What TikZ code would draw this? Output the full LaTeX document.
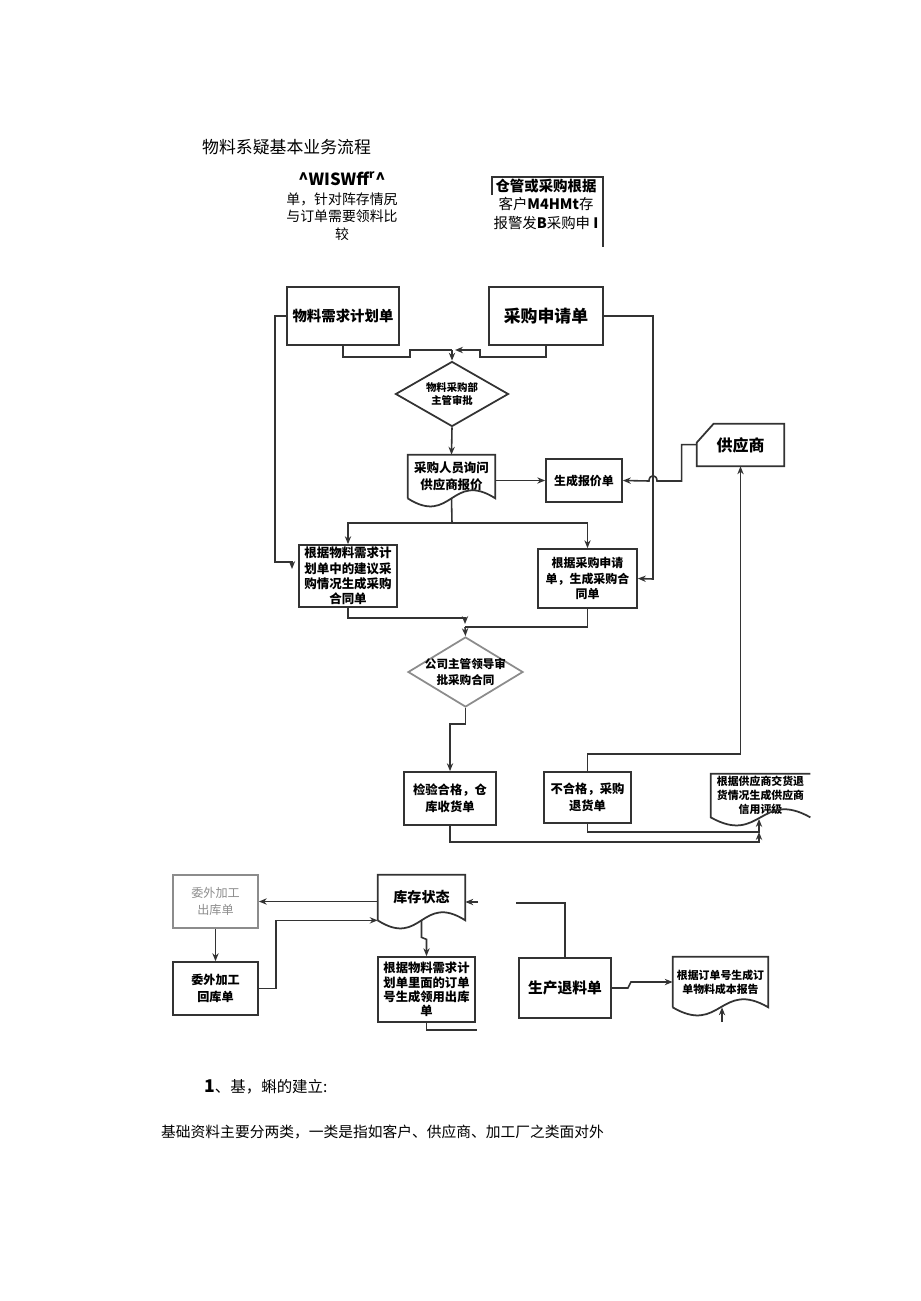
\documentclass[tikz,border=0pt]{standalone}
\usepackage{fontspec}
\setmainfont{Noto Sans CJK SC}
\usetikzlibrary{arrows.meta,shapes.geometric,calc}
\definecolor{linegray}{HTML}{333333}
\definecolor{softgray}{HTML}{8C8C8C}
\newcommand{\fsz}[2]{\fontsize{#1pt}{#2pt}\selectfont}
\newcommand{\docframe}[1]{\draw[frame] (#1.south west) -- (#1.north west) -- (#1.north east) -- (#1.south east)
  .. controls ($(#1.south)+(0,-28)$) and ($(#1.south)+(0,28)$) .. (#1.south west);}
\tikzset{
  box/.style={draw=linegray, line width=1pt, rectangle, inner sep=0pt, align=center},
  decision/.style={draw=linegray, line width=1pt, diamond, inner sep=0pt},
  dtext/.style={align=center, inner sep=0pt},
  doc/.style={rectangle, inner sep=0pt, align=center},
  frame/.style={draw=linegray, line width=1pt},
  flow/.style={draw=linegray, line width=0.9pt}
}

\begin{document}
\begin{tikzpicture}[x=0.02cm,y=-0.02cm,>={Stealth[length=4.5pt,width=3.6pt]}]
\useasboundingbox (0,0) rectangle (920,1301);

\node[anchor=west,font=\fsz{9.6}{11}] (title) at (196,147) {物料系疑基本业务流程};
\node[align=center,font=\fsz{7.9}{9.9}] (note1) at (342,206) {{\bfseries\fsz{9.5}{10}\textasciicircum WISWff\textsuperscript{r}\textasciicircum}\\[1pt]单，针对阵存情尻\\与订单需要领料比\\较};
\node[align=center,font=\fsz{8.2}{10.5}] (note2) at (546,204) {\bfseries 仓管或采购根据\\客户\textbf{M4HMt}存\\报警发\textbf{B}采购申 \textbf{I}};
\draw[frame] (492,195) -- (492,177) -- (603,177) -- (603,247);

\node[box,minimum width=2.24cm,minimum height=1.16cm,font=\bfseries\fsz{8.2}{10}] (mrp) at (343,316) {物料需求计划单};
\node[box,minimum width=2.28cm,minimum height=1.16cm,font=\bfseries\fsz{9.6}{11}] (req) at (546,316) {采购申请单};
\node[decision,minimum width=2.26cm,minimum height=1.3cm] (chk) at (452,394) {};
\node[dtext,font=\bfseries\fsz{5.9}{7.6}] (chktext) at (chk) {物料采购部\\主管审批};
\node[doc,minimum width=1.74cm,minimum height=0.86cm,font=\bfseries\fsz{7.1}{9.9}] (ask) at (451.5,476.5) {采购人员询问\\供应商报价};
\docframe{ask}
\node[box,minimum width=1.52cm,minimum height=0.86cm,font=\bfseries\fsz{6.8}{8}] (quote) at (584,480.5) {生成报价单};
\node[doc,minimum width=1.74cm,minimum height=0.84cm,font=\bfseries\fsz{9.1}{10}] (sup) at (740.5,445) {供应商};
\draw[frame] ($(sup.north west)+(17,0)$) -- (sup.north east) -- (sup.south east) -- (sup.south west) -- ($(sup.north west)+(0,19)$) -- cycle;
\node[box,minimum width=1.96cm,minimum height=1.24cm,font=\bfseries\fsz{7.1}{8.7}] (plan) at (348,576) {根据物料需求计\\划单中的建议采\\购情况生成采购\\合同单};
\node[box,minimum width=1.98cm,minimum height=1.18cm,font=\bfseries\fsz{6.8}{9}] (order) at (587.5,578.5) {根据采购申请\\单，生成采购合\\同单};
\node[decision,draw=softgray,minimum width=2.3cm,minimum height=1.4cm] (boss) at (465.5,672) {};
\node[dtext,font=\bfseries\fsz{6.6}{9.6}] (bosstext) at (boss) {公司主管领导审\\批采购合同};
\node[box,minimum width=1.84cm,minimum height=1.06cm,font=\bfseries\fsz{7}{9.4}] (pass) at (450,798.5) {检验合格，仓\\库收货单};
\node[box,minimum width=1.74cm,minimum height=1.02cm,font=\bfseries\fsz{7}{9.4}] (fail) at (587.5,797.5) {不合格，采购\\退货单};
\node[doc,minimum width=1.98cm,minimum height=0.86cm,font=\bfseries\fsz{6.2}{7.9}] (rate) at (760.5,795.5) {根据供应商交货退\\货情况生成供应商\\信用评级};
\draw[frame] (rate.north east) -- (rate.north west) -- (rate.south west)
  .. controls ($(rate.south)+(0,28)$) and ($(rate.south)+(0,-28)$) .. (rate.south east);

\node[box,draw=softgray,text=softgray,minimum width=1.7cm,minimum height=1.06cm,font=\fsz{6.9}{9.6}] (sendout) at (215.5,901.5) {委外加工\\出库单};
\node[box,minimum width=1.7cm,minimum height=1.06cm,font=\bfseries\fsz{6.9}{9.6}] (sendback) at (215.5,988.5) {委外加工\\回库单};
\node[doc,minimum width=1.74cm,minimum height=0.9cm,font=\bfseries\fsz{8}{9}] (stock) at (421.5,897.5) {库存状态};
\docframe{stock}
\node[box,minimum width=1.94cm,minimum height=1.3cm,font=\bfseries\fsz{7}{8.2}] (issue) at (426.5,989.5) {根据物料需求计\\划单里面的订单\\号生成领用出库\\单};
\node[box,minimum width=1.84cm,minimum height=1.2cm,font=\bfseries\fsz{8.4}{9}] (retmat) at (565,988) {生产退料单};
\node[doc,minimum width=1.9cm,minimum height=1cm,font=\bfseries\fsz{6.2}{7.9}] (cost) at (720.5,982) {根据订单号生成订\\单物料成本报告};
\docframe{cost}

\node[anchor=west,font=\fsz{8.8}{10}] (sec) at (198,1087) {{\bfseries\fsz{10}{10}1}、基，蝌的建立:};
\node[anchor=west,font=\fsz{8.4}{10}] (para) at (155,1132) {基础资料主要分两类，一类是指如客户、供应商、加工厂之类面对外};

\coordinate (m1) at (452,350);
\draw[flow] (mrp.south) |- (410,357) -- (410,350) -- (m1);
\draw[flow,->] (req.south) |- (480,357) -- (480,350) -- ($(m1)+(3,0)$);
\draw[flow,->] (m1) -- (chk.north);
\draw[flow,->] (chk.south) -- (ask.north);
\draw[flow,->] (ask.east |- quote.west) -- (quote.west);
\coordinate (supin) at ($(sup.north west)+(0,21)$);
\draw[flow,->] (supin) -- ++(-15,0) |- (657,481) .. controls (657,474) and (649,474) .. (649,481) -- (quote.east);
\draw[flow,->] (req.east) -| (653,579) -- (order.east);
\coordinate (split) at (452,523);
\draw[flow] (ask.south) -- (split);
\draw[flow,->] (split) -| (plan.north);
\draw[flow,->] (split) -| (order.north);
\draw[flow,->] (mrp.west) -- ++(-11,0) |- (292,562) -- (292,569);
\coordinate (merge) at (465,627);
\draw[flow,->] (plan.south) |- (465,618) -- (465,624);
\draw[flow] (order.south) |- (merge);
\draw[flow,->] (merge) -- (boss.north);
\draw[flow,->] (boss.south) -- ++(0,16) -| (pass.north);
\draw[flow,->] (fail.north) -- ++(0,-17) -| (sup.south);
\draw[flow,->] (pass.south) -- ++(0,16) -| (759,832);
\draw[flow,->] (fail.south) -- ++(0,8) -| (759,819);

\draw[flow,->] (stock.west |- sendout.east) -- (sendout.east);
\draw[flow,->] (sendout.south) -- (sendback.north);
\draw[flow,->] (sendback.east) -- ++(17,0) |- (stock.south west);
\draw[flow,->] (stock.south) -- ++(0,17) -- ++(5,2) -- (issue.north);
\coordinate (cutA) at (477,1030);
\draw[flow] (issue.south) |- (cutA);
\coordinate (cutB) at (478,902);
\draw[flow,->] (cutB) -- (stock.east |- cutB);
\coordinate (cutC) at (516,903);
\draw[flow] (retmat.north) |- (cutC);
\draw[flow,->] (retmat.east) -- ++(16,0) -- ++(3,-6) -- (cost.west);
\coordinate (cutD) at (722,1022);
\draw[flow,->] (cutD) -- (cutD |- cost.south);
\end{tikzpicture}
\end{document}
